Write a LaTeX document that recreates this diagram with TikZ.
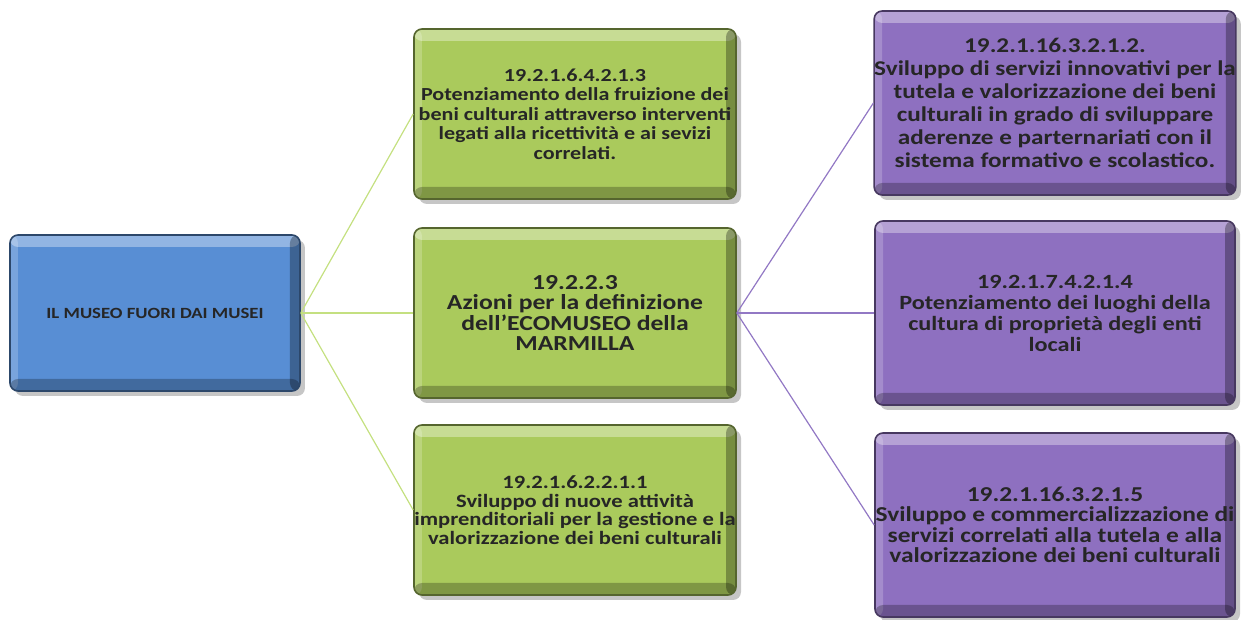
\documentclass[tikz,border=0pt]{standalone}
\usepackage{fontspec}
\setmainfont{Carlito}[FakeStretch=1.2]
\usetikzlibrary{positioning}
\usetikzlibrary{shadows}
\definecolor{museoblue}{RGB}{88,142,212}
\definecolor{museogreen}{RGB}{170,202,92}
\definecolor{museopurple}{RGB}{142,112,192}
\definecolor{greenline}{RGB}{196,224,128}
\definecolor{purpleline}{RGB}{146,120,196}
\tikzset{node distance=2.5cm,
    bevel/.style={
        rectangle,
        rounded corners=4pt,
        align=center,
        inner sep=0pt,
        fill=#1,
        draw=#1!50!black,
        line width=0.8pt,
        text=black!85,
        drop shadow={shadow xshift=2.5pt,shadow yshift=-2.5pt,opacity=.45},
        path picture={
            \fill[white,opacity=.35] (path picture bounding box.north west)
                rectangle ([yshift=-6pt]path picture bounding box.north east);
            \fill[white,opacity=.2] (path picture bounding box.north west)
                rectangle ([xshift=4pt]path picture bounding box.south west);
            \fill[black,opacity=.25] ([yshift=6pt]path picture bounding box.south west)
                rectangle (path picture bounding box.south east);
            \fill[black,opacity=.3] ([xshift=-5pt]path picture bounding box.north east)
                rectangle (path picture bounding box.south east);}},
    bluebox/.style={bevel=museoblue,minimum width=145pt,minimum height=78pt},
    greenbox/.style={bevel=museogreen,minimum width=161pt,minimum height=85pt},
    purplebox/.style={bevel=museopurple,minimum width=180pt,minimum height=92pt},
    txt/.style 2 args={font=\bfseries\fontsize{#1}{#2}\selectfont},
    every edge/.style={
        draw,
        line width=0.6pt}}

\begin{document}
\begin{tikzpicture}
        \node[greenbox,txt={10.7}{10.3}] (gmid) {19.2.2.3\\Azioni per la definizione\\dell'ECOMUSEO della\\MARMILLA};
        \node[greenbox,txt={9.2}{9.8},above of=gmid,node distance=99.5pt] (gtop) {19.2.1.6.4.2.1.3\\Potenziamento della fruizione dei\\beni culturali attraverso interventi\\legati alla ricettività e ai sevizi\\correlati.};
        \node[greenbox,txt={9.4}{9.3},below of=gmid,node distance=98.5pt] (gbot) {19.2.1.6.2.2.1.1\\Sviluppo di nuove attività\\imprenditoriali per la gestione e la\\valorizzazione dei beni culturali};
        \node[bluebox,txt={7.8}{8},left of=gmid,node distance=210pt] (museo) {IL MUSEO FUORI DAI MUSEI};

        \node[purplebox,txt={10.1}{10.5},right of=gmid,node distance=240pt] (pmid) {19.2.1.7.4.2.1.4\\Potenziamento dei luoghi della\\cultura di proprietà degli enti\\locali};
        \node[purplebox,txt={10.5}{11.5},above of=pmid,node distance=105pt] (ptop) {19.2.1.16.3.2.1.2.\\Sviluppo di servizi innovativi per la\\tutela e valorizzazione dei beni\\culturali in grado di sviluppare\\aderenze e parternariati con il\\sistema formativo e scolastico.};
        \node[purplebox,txt={10.6}{10.2},below of=pmid,node distance=106pt] (pbot) {19.2.1.16.3.2.1.5\\Sviluppo e commercializzazione di\\servizi correlati alla tutela e alla\\valorizzazione dei beni culturali};

        \draw (museo.east) edge[greenline] (gtop.west);
        \draw (museo.east) edge[greenline] (gmid.west);
        \draw (museo.east) edge[greenline] (gbot.west);

        \draw (gmid.east) edge[purpleline] (ptop.west);
        \draw (gmid.east) edge[purpleline] (pmid.west);
        \draw (gmid.east) edge[purpleline] (pbot.west);

        \useasboundingbox (gmid.center) ++(-287.5pt,156.5pt) rectangle ++(621pt,-310pt);
    \end{tikzpicture}
\end{document}
